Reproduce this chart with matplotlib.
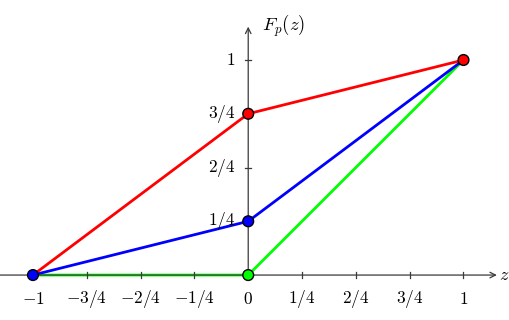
import matplotlib.pyplot as plt

plt.rcParams['mathtext.fontset'] = 'cm'

# data
z = [-1, 0, 1]
F_green = [0, 0, 1]
F_blue = [0, 0.25, 1]
F_red = [0, 0.75, 1]

pts_x = [-1, 0, 0, 0, 1]
pts_y = [0, 0, 0.25, 0.75, 1]
pts_c = ['#0000ff', '#00ff00', '#0000ff', '#ff0000', '#ff0000']

xticks = [-1, -0.75, -0.5, -0.25, 0, 0.25, 0.5, 0.75, 1]
xlabels = ['$-1$', '$-3/4$', '$-2/4$', '$-1/4$', '$0$', '$1/4$', '$2/4$', '$3/4$', '$1$']
yticks = [0.25, 0.5, 0.75, 1]
ylabels = ['$1/4$', '$2/4$', '$3/4$', '$1$']

fig = plt.figure(figsize=(5.1, 3.2), dpi=100)
ax = fig.add_axes([0, 0, 1, 1])
ax.set_xlim(-1.153, 1.216)
ax.set_ylim(-0.209, 1.279)
ax.axis('off')

axc = '#3a3a3a'
ax.plot(z, F_green, color='#00ff00', lw=2, zorder=2)
ax.plot(z, F_blue, color='#0000ff', lw=2, zorder=2)
ax.plot(z, F_red, color='#ff0000', lw=2, zorder=2)

# axes with arrows
ax.annotate('', xy=(1.155, 0), xytext=(-1.153, 0),
            arrowprops=dict(arrowstyle='->', color=axc, lw=0.9, shrinkA=0, shrinkB=0), zorder=3)
ax.annotate('', xy=(0, 1.155), xytext=(0, 0),
            arrowprops=dict(arrowstyle='->', color=axc, lw=0.9, shrinkA=0, shrinkB=0), zorder=3)
ax.text(1.163, 0, '$z$', fontsize=13, ha='left', va='center')
ax.text(0.062, 1.16, '$F_p(z)$', fontsize=13.5, ha='left', va='center')

for t, lab in zip(xticks, xlabels):
    if t != 0:
        ax.plot([t, t], [-0.013, 0.013], color=axc, lw=0.9, zorder=3)
    ax.text(t, -0.11, lab, fontsize=12.5, ha='center', va='center')
for t, lab in zip(yticks, ylabels):
    ax.plot([-0.013, 0.013], [t, t], color=axc, lw=0.9, zorder=3)
    ax.text(-0.058, t, lab, fontsize=12.5, ha='right', va='center')

ax.scatter(pts_x, pts_y, s=60, c=pts_c, edgecolors='black', linewidths=1, zorder=4)

fig.savefig('out.png', dpi=100)
